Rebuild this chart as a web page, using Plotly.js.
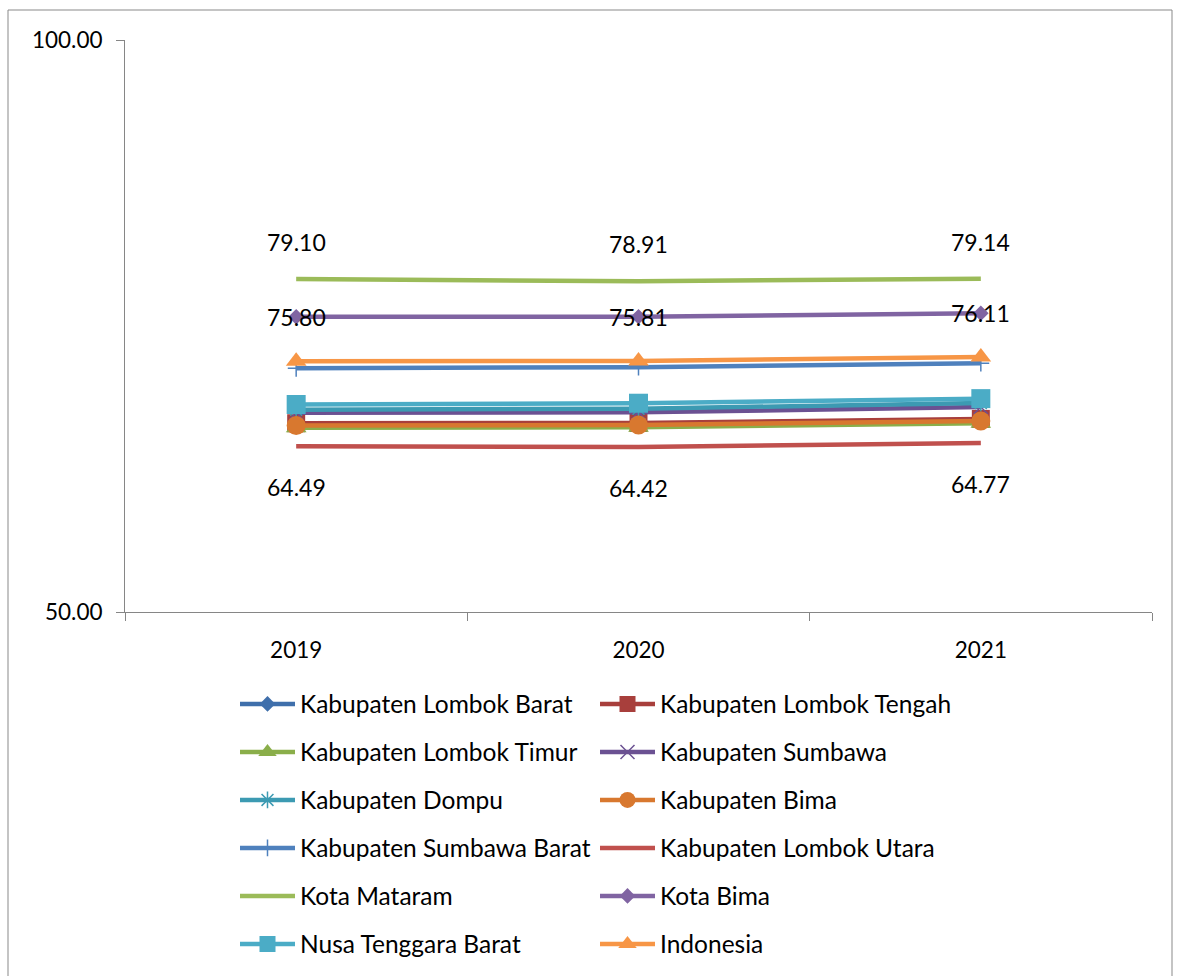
<!DOCTYPE html>
<html>
<head>
<meta charset="utf-8">
<script src="https://cdn.plot.ly/plotly-3.0.1.min.js"></script>
<style>html,body{margin:0;padding:0;background:#fff;}#chart{width:1179px;height:976px;}</style>
</head>
<body>
<div id="chart"></div>
<script>
const years = ["2019", "2020", "2021"];
const seriesNames = [
  "Kabupaten Lombok Barat", "Kabupaten Lombok Tengah",
  "Kabupaten Lombok Timur", "Kabupaten Sumbawa",
  "Kabupaten Dompu", "Kabupaten Bima",
  "Kabupaten Sumbawa Barat", "Kabupaten Lombok Utara",
  "Kota Mataram", "Kota Bima",
  "Nusa Tenggara Barat", "Indonesia"
];
const lombokBarat   = [66.40, 66.45, 66.80];
const lombokTengah  = [66.50, 66.52, 66.88];
const lombokTimur   = [66.10, 66.15, 66.50];
const sumbawa       = [67.42, 67.45, 67.92];
const dompu         = [67.68, 67.77, 68.27];
const bima          = [66.30, 66.35, 66.70];
const sumbawaBarat  = [71.30, 71.40, 71.75];
const lombokUtara   = [64.49, 64.42, 64.77];
const kotaMataram   = [79.10, 78.91, 79.14];
const kotaBima      = [75.80, 75.81, 76.11];
const ntb           = [68.14, 68.25, 68.65];
const indonesia     = [71.92, 71.94, 72.29];

const seriesValues = [lombokBarat, lombokTengah, lombokTimur, sumbawa, dompu, bima,
  sumbawaBarat, lombokUtara, kotaMataram, kotaBima, ntb, indonesia];
const colors = ["#3F6FAB", "#A83F3C", "#8AAE4A", "#6B5192", "#3C9AB2", "#D8782F",
  "#4F81BD", "#C0504D", "#9BBB59", "#8064A2", "#4BACC6", "#F79646"];
const symbols = ["diamond", "square", "triangle-up", "x-thin-open", "asterisk-open", "circle",
  "cross-thin-open", null, null, "diamond", "square", "triangle-up"];
const sizes = [12, 18, 18, 14, 14, 19, 12, 0, 0, 12, 19, 18];
const labelledSeries = {8: -37, 9: 0, 7: 41};

const FONT = "Lato, 'Liberation Sans', sans-serif";
const xpos = [0, 1, 2];

const traces = seriesValues.map((vals, i) => {
  const t = {
    type: "scatter",
    x: xpos, y: vals, name: seriesNames[i],
    mode: symbols[i] ? "lines+markers" : "lines",
    line: {color: colors[i], width: 4.5},
    legend: i < 2 ? "legend" : "legend" + (Math.floor(i / 2) + 1),
    hoverinfo: "skip"
  };
  if (symbols[i]) {
    t.marker = {symbol: symbols[i], size: sizes[i], color: colors[i],
      line: {color: colors[i], width: symbols[i].indexOf("open") >= 0 ? 1.5 : 0}};
  }
  return t;
});
// dummy trace to carry category labels on the overlaid axis
traces.push({type: "scatter", x: xpos, y: [null, null, null], xaxis: "x2", showlegend: false, hoverinfo: "skip", mode: "lines"});

const annotations = [];
Object.keys(labelledSeries).forEach(k => {
  const i = +k;
  seriesValues[i].forEach((v, j) => {
    annotations.push({x: xpos[j], y: v, xref: "x", yref: "y", text: v.toFixed(2),
      showarrow: false, yshift: -labelledSeries[i], font: {family: FONT, size: 23, color: "#000"}});
  });
});

const plotL = 125, plotR = 1152, plotT = 40, plotB = 612, W = 1179, H = 976;
const pw = plotR - plotL, ph = plotB - plotT;
const px2x = p => (p - plotL) / pw;
const py2y = p => (plotB - p) / ph;

const legendRows = [704, 752, 800, 848, 896, 944];
const layout = {
  width: W, height: H,
  margin: {l: plotL, r: W - plotR, t: plotT, b: H - plotB, autoexpand: false},
  paper_bgcolor: "#fff", plot_bgcolor: "#fff",
  font: {family: FONT, size: 22, color: "#000"},
  showlegend: true,
  xaxis: {range: [-0.5, 2.5], tickvals: [-0.5, 0.5, 1.5, 2.5], ticktext: ["", "", "", ""],
    ticks: "outside", ticklen: 8, tickcolor: "#868686", tickwidth: 1,
    showline: true, linecolor: "#868686", linewidth: 1, showgrid: false, zeroline: false, fixedrange: true},
  xaxis2: {overlaying: "x", range: [-0.5, 2.5], tickvals: xpos, ticktext: years, ticks: "",
    showline: false, showgrid: false, zeroline: false, side: "bottom", anchor: "y",
    ticklabelstandoff: 22, tickfont: {family: FONT, size: 22.5, color: "#000"}},
  yaxis: {range: [50, 100], tickvals: [50, 100], ticktext: ["50.00", "100.00"],
    ticks: "outside", ticklen: 8, tickcolor: "#868686", tickwidth: 1,
    showline: true, linecolor: "#868686", linewidth: 1,
    showgrid: true, gridcolor: "#868686", gridwidth: 1, zeroline: false,
    tickfont: {family: FONT, size: 22.5, color: "#000"}, ticklabelstandoff: 9},
  annotations: annotations,
  shapes: [{type: "rect", xref: "paper", yref: "paper", x0: px2x(8), x1: px2x(1172), y0: py2y(990), y1: py2y(10),
    line: {color: "#898989", width: 1}, fillcolor: "rgba(0,0,0,0)", layer: "below"}]
};
legendRows.forEach((ry, r) => {
  const key = r === 0 ? "legend" : "legend" + (r + 1);
  layout[key] = {orientation: "h", x: px2x(235), xanchor: "left", y: py2y(ry), yanchor: "middle",
    entrywidth: 290, entrywidthmode: "pixels", itemwidth: 55, traceorder: "normal",
    font: {family: FONT, size: 24.5, color: "#000"}, bgcolor: "rgba(0,0,0,0)", itemclick: false, itemdoubleclick: false};
});

Plotly.newPlot("chart", traces, layout, {displayModeBar: false, staticPlot: true});
</script>
</body>
</html>
